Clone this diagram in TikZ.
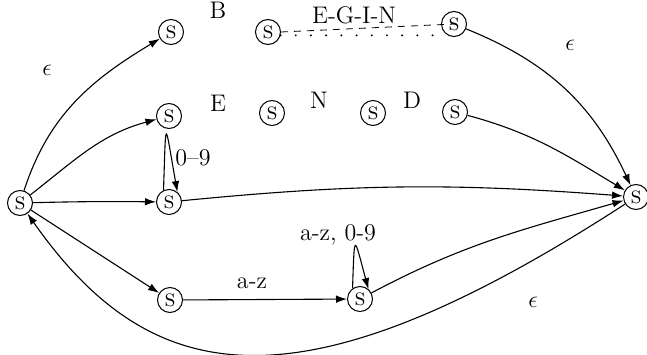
\documentclass[tikz,border=0pt]{standalone}
\usetikzlibrary{arrows.meta}
\begin{document}
\begin{tikzpicture}[x=0.5pt,y=0.5pt,
  st/.style={draw,circle,inner sep=0pt,minimum size=12.5pt,line width=0.5pt,font=\large\scshape},
  tr/.style={line width=0.55pt,-{Latex[length=5.5pt,width=3.8pt]}},
  lbl/.style={inner sep=0pt,font=\large}]
\useasboundingbox (0,0) rectangle (647,354);
% states
\node[st] (n0) at (20,151) {s};
\node[st] (n1) at (171,322) {s};
\node[st] (n2) at (268,322) {s};
\node[st] (n3) at (454,330) {s};
\node[st] (n4) at (169,238) {s};
\node[st] (n5) at (272,241) {s};
\node[st] (n6) at (373,241) {s};
\node[st] (n7) at (455,242) {s};
\node[st] (n8) at (169,152) {s};
\node[st] (n9) at (170,54) {s};
\node[st] (n10) at (360,55) {s};
\node[st] (n11) at (636,157) {s};
% labels
\node[lbl] (lB) at (218,344) {B};
\node[lbl] (lEGIN) at (354,339) {E-G-I-N};
\node[lbl] (lE) at (218,251) {E};
\node[lbl] (lN) at (319,254) {N};
\node[lbl] (lD) at (412,254) {D};
\node[lbl] (l09) at (193,196) {0--9};
\node[lbl] (laz09) at (338,119) {a-z, 0-9};
\node[lbl] (laz) at (252,71) {a-z};
\node[lbl] (e1) at (47,284) {$\epsilon$};
\node[lbl] (e2) at (570,309) {$\epsilon$};
\node[lbl] (e3) at (533,52) {$\epsilon$};
% transitions
\draw[tr] (n0) to[out=72,in=211] (n1);
\draw[tr] (n0) to[out=38,in=195] (n4);
\draw[tr] (n0) to[bend left=1] (n8);
\draw[tr] (n0) to (n9);
\draw[tr] (n9) to (n10);
\draw[tr] (n8.115) .. controls +(88:75) and +(100:75) .. (n8.50);
\draw[tr] (n10.125) .. controls +(88:57) and +(105:57) .. (n10.50);
\draw[tr] (n8) to[bend left=5] (n11);
\draw[tr] (n10) to[out=28,in=196] (n11);
\draw[tr] (n7) to[out=-15,in=149] (n11);
\draw[tr] (n3) to[out=-22,in=115] (n11);
\draw[tr] (n11) .. controls (300,-61) and (152,-37) .. (n0);
\draw[line width=0.4pt,dash pattern=on 3.5pt off 3pt] (n2.east) -- (n3.center);
\draw[line width=1.1pt,line cap=round,dash pattern=on 0pt off 7.6pt] (n2.-15) -- (n2.-15 -| n3.south west);
\end{tikzpicture}
\end{document}
